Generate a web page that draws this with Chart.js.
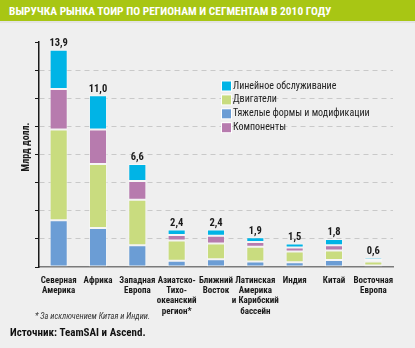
<!DOCTYPE html>
<html lang="ru">
<head>
<meta charset="utf-8">
<title>Выручка рынка ТОиР</title>
<script src="https://cdn.jsdelivr.net/npm/chart.js@4.4.1/dist/chart.umd.min.js"></script>
<style>
  html, body { margin: 0; padding: 0; background: #efefef; }
  .wrap { position: relative; width: 415px; height: 348px; overflow: hidden;
    font-family: Roboto, sans-serif; font-stretch: condensed; }
  .head { position: absolute; left: 0; top: 0; width: 415px; height: 23px; background: #a8c614;
    border-bottom: 2px solid #e3e3e3; color: #fff; font-weight: bold; font-size: 11.4px; line-height: 22px;
    padding-left: 9px; box-sizing: border-box; white-space: nowrap; }
  canvas { position: absolute; left: 0; top: 0; }
  .note { position: absolute; left: 35px; top: 311px; font-size: 9px; font-style: italic; color: #333;
    white-space: nowrap; transform-origin: left center; }
  .src { position: absolute; left: 10px; top: 326px; font-size: 11px; font-weight: bold; color: #111; }
</style>
</head>
<body>
<div class="wrap">
  <div class="head">ВЫРУЧКА РЫНКА ТОИР ПО РЕГИОНАМ И СЕГМЕНТАМ В 2010 ГОДУ</div>
  <canvas id="chart" width="415" height="348"></canvas>
  <div class="note" id="note">* За исключением Китая и Индии.</div>
  <div class="src">Источник: TeamSAI и Ascend.</div>
</div>
<script>
const FONT = 'Roboto, sans-serif';

// регионы (подписи по строкам)
const regions = [
  ['Северная', 'Америка'],
  'Африка',
  ['Западная', 'Европа'],
  ['Азиатско-', 'Тихо-', 'океанский', 'регион*'],
  ['Ближний', 'Восток'],
  ['Латинская', 'Америка', 'и Карибский', 'бассейн'],
  'Индия',
  'Китай',
  ['Восточная', 'Европа'],
];

// млрд долл., снизу вверх по стопке
const heavy      = [3.0, 2.5, 1.4, 0.4,  0.5, 0.35, 0.3,  0.45, 0.1];
const engines    = [5.8, 4.1, 2.9, 1.3,  1.0, 0.95, 0.7,  0.6,  0.25];
const components = [2.6, 2.2, 1.2, 0.35, 0.5, 0.3,  0.25, 0.35, 0.1];
const lineMaint  = [2.5, 2.2, 1.1, 0.35, 0.4, 0.3,  0.25, 0.4,  0.15];
const totals     = [13.9, 11.0, 6.6, 2.4, 2.4, 1.9, 1.5, 1.8, 0.6];

const COLORS = {
  heavy: '#6b9dd5',
  engines: '#c9dc7f',
  components: '#b77bae',
  lineMaint: '#00b4e6',
};

const fmt = (v) => v.toFixed(1).replace('.', ',');

const ds = (label, data, color) => ({
  label, data,
  backgroundColor: color,
  borderColor: 'rgba(255,255,255,0.45)',
  borderWidth: 1,
  borderSkipped: false,
  barPercentage: 0.46,
  categoryPercentage: 1,
});

// порядок в легенде отличается от порядка в стопке
const legendOrder = [3, 1, 0, 2];

const overlay = {
  id: 'overlay',
  afterDatasetsDraw(chart) {
    const { ctx, scales: { x, y } } = chart;
    ctx.save();

    // итоговые значения над столбцами
    ctx.font = 'bold condensed 10.5px ' + FONT;
    ctx.fillStyle = '#1a1a1a';
    ctx.textAlign = 'center';
    ctx.textBaseline = 'bottom';
    totals.forEach((t, i) => ctx.fillText(fmt(t), x.getPixelForValue(i), y.getPixelForValue(t) - 1));

    // легенда
    ctx.font = 'condensed 10px ' + FONT;
    ctx.textAlign = 'left';
    ctx.textBaseline = 'middle';
    legendOrder.forEach((di, row) => {
      const d = chart.data.datasets[di];
      const cy = 86 + row * 13.9;
      ctx.fillStyle = '#fff';
      ctx.fillRect(221, cy - 5.5, 11, 11);
      ctx.fillStyle = d.backgroundColor;
      ctx.fillRect(222, cy - 4.5, 9, 9);
      ctx.fillStyle = '#222';
      ctx.fillText(d.label, 233, cy);
    });

    // подпись оси
    ctx.translate(26, 147);
    ctx.rotate(-Math.PI / 2);
    ctx.font = 'bold condensed 10px ' + FONT;
    ctx.textAlign = 'center';
    ctx.fillStyle = '#1a1a1a';
    ctx.fillText('Млрд долл.', 0, 0);

    ctx.restore();
  },
};

new Chart(document.getElementById('chart'), {
  type: 'bar',
  data: {
    labels: regions,
    datasets: [
      ds('Тяжелые формы и модификации', heavy, COLORS.heavy),
      ds('Двигатели', engines, COLORS.engines),
      ds('Компоненты', components, COLORS.components),
      ds('Линейное обслуживание', lineMaint, COLORS.lineMaint),
    ],
  },
  options: {
    responsive: false,
    animation: false,
    layout: { padding: { top: 42, right: 22, left: 0, bottom: 0 } },
    plugins: { legend: { display: false }, tooltip: { enabled: false } },
    scales: {
      x: {
        stacked: true,
        grid: { display: false },
        border: { display: true, color: '#7a7a7a', width: 1.5 },
        ticks: {
          color: '#1a1a1a',
          // 'condensed' идёт в строку шрифта вместе с насыщенностью
          font: { family: FONT, size: 9, weight: 'bold condensed', lineHeight: 1.12 },
          padding: 1,
          maxRotation: 0,
          autoSkip: false,
        },
        afterFit: (s) => { s.height = 81; },
      },
      y: {
        stacked: true,
        min: 0,
        max: 14.4,
        ticks: { display: false, stepSize: 1.8 },
        grid: {
          color: (c) => (c.index === 0 || c.index === 8 ? 'rgba(0,0,0,0)' : '#c9c9c9'),
          tickBorderDash: [],
          tickColor: '#1a1a1a',
          tickLength: 4,
          lineWidth: 1,
        },
        border: { display: true, color: '#1a1a1a', width: 1.5, dash: [5, 4] },
        afterFit: (s) => { s.width = 39; },
      },
    },
  },
  plugins: [overlay],
});

// курсив без узкого начертания — ужимаем сноску до ширины ~115px
const note = document.getElementById('note');
const nw = note.getBoundingClientRect().width;
if (nw > 118) note.style.transform = `scaleX(${(115 / nw).toFixed(3)})`;
</script>
</body>
</html>
